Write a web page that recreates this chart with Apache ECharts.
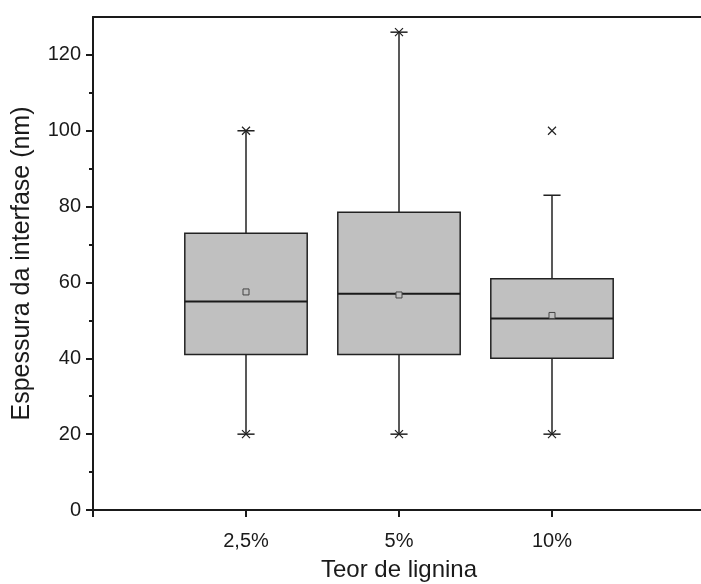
<!DOCTYPE html>
<html>
<head>
<meta charset="utf-8">
<script src="https://cdn.jsdelivr.net/npm/echarts@6/dist/echarts.min.js"></script>
<style>
  html, body { margin: 0; padding: 0; background: #fff; }
  #chart { width: 701px; height: 584px; }
</style>
</head>
<body>
<div id="chart"></div>
<script>
// Lignin content groups
const categories = ['2,5%', '5%', '10%'];
// Whisker ends (lower / upper)
const whiskerLow = [20, 20, 20];
const whiskerHigh = [100, 126, 83];
// Quartiles and median
const q1 = [41, 41, 40];
const median = [55, 57, 50.5];
const q3 = [73, 78.5, 61];
// Means
const means = [57.5, 56.7, 51.3];
// Minimum and maximum observations
const dataMin = [20, 20, 20];
const dataMax = [100, 126, 100];
// Y-axis tick values
const yMajorTicks = [0, 20, 40, 60, 80, 100, 120];
const yMinorTicks = [10, 30, 50, 70, 90, 110];

// Category axis padded with an empty slot on each side
const axisCats = [''].concat(categories, ['']);

const boxData = categories.map((c, i) => [i + 1, whiskerLow[i], q1[i], median[i], q3[i], whiskerHigh[i]]);
const meanData = categories.map((c, i) => [i + 1, means[i]]);
const extremeData = [];
categories.forEach((c, i) => {
  extremeData.push([i + 1, dataMin[i]]);
  extremeData.push([i + 1, dataMax[i]]);
});

const FONT = '"Liberation Sans", Arial, sans-serif';
const INK = '#1a1a1a';

function renderBox(params, api) {
  const x = api.value(0);
  const pLo = api.coord([x, api.value(1)]);
  const pQ1 = api.coord([x, api.value(2)]);
  const pMed = api.coord([x, api.value(3)]);
  const pQ3 = api.coord([x, api.value(4)]);
  const pHi = api.coord([x, api.value(5)]);
  const band = api.size([1, 0])[0];
  const half = band * 0.4;
  const cap = band * 0.056;
  const cx = pMed[0];
  const lineStyle = { stroke: '#222', lineWidth: 1.5, fill: null };
  return {
    type: 'group',
    children: [
      { type: 'line', shape: { x1: cx, y1: pQ3[1], x2: cx, y2: pHi[1] }, style: lineStyle },
      { type: 'line', shape: { x1: cx, y1: pQ1[1], x2: cx, y2: pLo[1] }, style: lineStyle },
      { type: 'line', shape: { x1: cx - cap, y1: pHi[1], x2: cx + cap, y2: pHi[1] }, style: lineStyle },
      { type: 'line', shape: { x1: cx - cap, y1: pLo[1], x2: cx + cap, y2: pLo[1] }, style: lineStyle },
      {
        type: 'rect',
        shape: { x: cx - half, y: pQ3[1], width: half * 2, height: pQ1[1] - pQ3[1] },
        style: { fill: '#c0c0c0', stroke: '#222', lineWidth: 1.5 }
      },
      { type: 'line', shape: { x1: cx - half, y1: pMed[1], x2: cx + half, y2: pMed[1] }, style: { stroke: '#1a1a1a', lineWidth: 2 } }
    ]
  };
}

const chart = echarts.init(document.getElementById('chart'), null, { renderer: 'canvas' });
chart.setOption({
  animation: false,
  backgroundColor: '#fff',
  grid: { left: 93, width: 612, top: 17, bottom: 74, containLabel: false, outerBoundsMode: 'none' },
  xAxis: [
    {
      type: 'category',
      data: axisCats,
      boundaryGap: false,
      name: 'Teor de lignina',
      nameLocation: 'middle',
      nameGap: 48,
      nameTextStyle: { fontFamily: FONT, fontSize: 24, color: INK },
      axisLine: { lineStyle: { color: INK, width: 2 } },
      axisTick: { show: true, interval: 0, length: 7, lineStyle: { color: INK, width: 2 } },
      axisLabel: { interval: 0, margin: 21, fontFamily: FONT, fontSize: 20, color: INK },
      splitLine: { show: false }
    },
    {
      type: 'value',
      position: 'top',
      min: 0, max: 1,
      axisLine: { show: true, onZero: false, lineStyle: { color: INK, width: 2 } },
      axisTick: { show: false },
      axisLabel: { show: false },
      splitLine: { show: false }
    }
  ],
  yAxis: [
    {
      type: 'value',
      min: 0,
      max: 130,
      interval: 20,
      name: 'Espessura da interfase (nm)',
      nameLocation: 'middle',
      nameGap: 58,
      nameTextStyle: { fontFamily: FONT, fontSize: 25, color: INK },
      axisLine: { show: true, lineStyle: { color: INK, width: 2 } },
      axisTick: { show: true, customValues: yMajorTicks, length: 7, lineStyle: { color: INK, width: 2 } },
      axisLabel: { customValues: yMajorTicks, margin: 12, fontFamily: FONT, fontSize: 20, color: INK },
      splitLine: { show: false }
    },
    {
      type: 'value',
      min: 0,
      max: 130,
      position: 'left',
      axisLine: { show: false },
      axisTick: { show: true, customValues: yMinorTicks, length: 4, lineStyle: { color: INK, width: 2 } },
      axisLabel: { show: false },
      splitLine: { show: false }
    }
  ],
  series: [
    {
      type: 'custom',
      renderItem: renderBox,
      data: boxData,
      encode: { x: 0, y: [1, 2, 3, 4, 5] },
      z: 2
    },
    {
      type: 'scatter',
      data: meanData,
      symbol: 'rect',
      symbolSize: 6,
      itemStyle: { color: '#c0c0c0', borderColor: '#444', borderWidth: 1, opacity: 1 },
      z: 4
    },
    {
      type: 'scatter',
      data: extremeData,
      symbol: 'path://M0,0L10,10M10,0L0,10',
      symbolSize: 8,
      itemStyle: { color: 'none', borderColor: '#222', borderWidth: 1.2, opacity: 1 },
      z: 5
    }
  ]
});
</script>
</body>
</html>
